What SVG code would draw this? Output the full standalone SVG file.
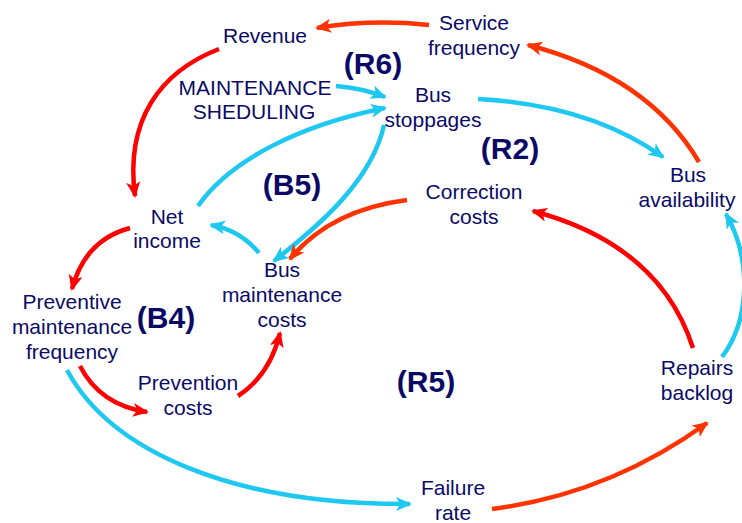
<svg xmlns="http://www.w3.org/2000/svg" width="742" height="523" viewBox="0 0 742 523">
<style>
.t{font-family:"Liberation Sans",Arial,sans-serif;font-size:21px;fill:#0a0a66;text-anchor:middle}
.l{font-family:"Liberation Sans",Arial,sans-serif;font-size:30px;font-weight:bold;fill:#0a0a66;text-anchor:middle}
.c{fill:none;stroke-width:4.5;stroke-linecap:butt}
.cy{stroke:#1ec8f0}
.rd{stroke:#ff0000}
.or{stroke:#ff3300}
</style>
<defs>
<marker id="aC" viewBox="0 0 16 14" markerWidth="16" markerHeight="14" refX="14" refY="7" orient="auto" markerUnits="userSpaceOnUse"><path d="M0,0 L16,7 L0,14 L4,7 z" fill="#1ec8f0"/></marker>
<marker id="aR" viewBox="0 0 16 14" markerWidth="16" markerHeight="14" refX="14" refY="7" orient="auto" markerUnits="userSpaceOnUse"><path d="M0,0 L16,7 L0,14 L4,7 z" fill="#ff0000"/></marker>
<marker id="aO" viewBox="0 0 16 14" markerWidth="16" markerHeight="14" refX="14" refY="7" orient="auto" markerUnits="userSpaceOnUse"><path d="M0,0 L16,7 L0,14 L4,7 z" fill="#ff3300"/></marker>
</defs>
<g id="connectors">
<path class="c or" d="M429 25 Q372 19 317 28" marker-end="url(#aO)"/>
<path class="c rd" d="M219 49 C160 72 125 120 135 196" marker-end="url(#aR)"/>
<path class="c cy" d="M336 86 Q362 88 385 97" marker-end="url(#aC)"/>
<path class="c cy" d="M198 206 C230 160 300 125 385 108" marker-end="url(#aC)"/>
<path class="c cy" d="M384 125 C372 180 320 225 274 261" marker-end="url(#aC)"/>
<path class="c cy" d="M478 99 Q590 105 663 157" marker-end="url(#aC)"/>
<path class="c or" d="M699 162 Q648 76 528 45" marker-end="url(#aO)"/>
<path class="c or" d="M407 200 Q330 210 290 259" marker-end="url(#aO)"/>
<path class="c cy" d="M259 253 Q240 230 211 225" marker-end="url(#aC)"/>
<path class="c rd" d="M130 228 Q85 240 72 289" marker-end="url(#aR)"/>
<path class="c rd" d="M80 366 Q100 405 147 412" marker-end="url(#aR)"/>
<path class="c rd" d="M238 396 Q270 375 280 333" marker-end="url(#aR)"/>
<path class="c cy" d="M67 370 C110 450 230 505 410 504" marker-end="url(#aC)"/>
<path class="c or" d="M492 509 Q609 494 707 423" marker-end="url(#aO)"/>
<path class="c rd" d="M693 348 Q660 245 533 211" marker-end="url(#aR)"/>
<path class="c cy" d="M722 357 C750 320 752 260 726 214" marker-end="url(#aC)"/>
</g>
<g id="revenue"><text class="t" x="265" y="43">Revenue</text></g>
<g id="service-frequency"><text class="t" x="474" y="30">Service</text><text class="t" x="474" y="55">frequency</text></g>
<g id="maintenance-sheduling"><text class="t" x="255" y="95">MAINTENANCE</text><text class="t" x="254" y="119">SHEDULING</text></g>
<g id="bus-stoppages"><text class="t" x="433" y="102">Bus</text><text class="t" x="433" y="127">stoppages</text></g>
<g id="correction-costs"><text class="t" x="474" y="199">Correction</text><text class="t" x="474" y="224">costs</text></g>
<g id="bus-availability"><text class="t" x="688" y="182">Bus</text><text class="t" x="687" y="207">availability</text></g>
<g id="net-income"><text class="t" x="167" y="224">Net</text><text class="t" x="167" y="248">income</text></g>
<g id="bus-maintenance-costs"><text class="t" x="282" y="277">Bus</text><text class="t" x="282" y="302">maintenance</text><text class="t" x="282" y="327">costs</text></g>
<g id="preventive-maintenance-frequency"><text class="t" x="72" y="309">Preventive</text><text class="t" x="72" y="334">maintenance</text><text class="t" x="72" y="359">frequency</text></g>
<g id="prevention-costs"><text class="t" x="188" y="390">Prevention</text><text class="t" x="188" y="415">costs</text></g>
<g id="repairs-backlog"><text class="t" x="697" y="375">Repairs</text><text class="t" x="697" y="400">backlog</text></g>
<g id="failure-rate"><text class="t" x="453" y="495">Failure</text><text class="t" x="453" y="520">rate</text></g>
<g id="loop-labels">
<text class="l" x="373" y="74">(R6)</text>
<text class="l" x="510" y="159">(R2)</text>
<text class="l" x="292" y="195">(B5)</text>
<text class="l" x="166" y="328">(B4)</text>
<text class="l" x="426" y="392">(R5)</text>
</g>
</svg>
